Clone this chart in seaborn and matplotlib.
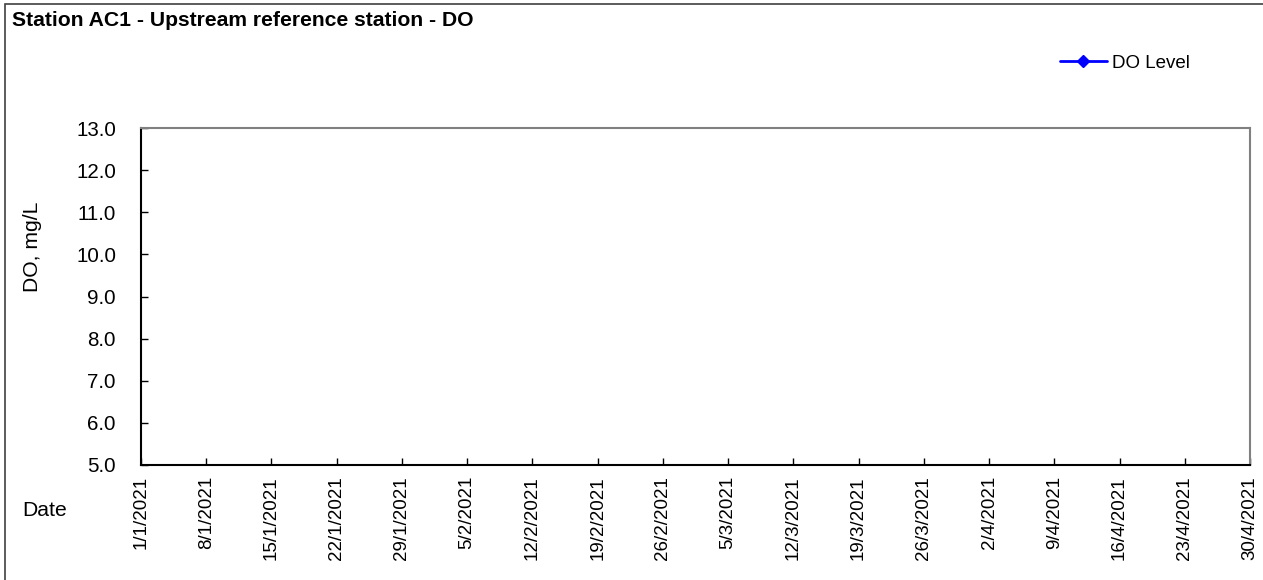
import numpy as np
import pandas as pd
import matplotlib
matplotlib.use("Agg")
import matplotlib.pyplot as plt
import seaborn as sns

# sampling dates (no readings were plotted for this period)
dates = pd.date_range("2021-01-01", "2021-04-30", freq="7D")
do_level = [np.nan] * len(dates)

y_min, y_max = 5.0, 13.0
x_start, x_end = pd.Timestamp("2021-01-01"), pd.Timestamp("2021-04-30")

sns.set_style("white")
plt.rcParams['font.family'] = ['Liberation Sans', 'DejaVu Sans']
plt.rcParams['text.color'] = 'black'

df = pd.DataFrame({"Date": dates, "DO": do_level})

fig = plt.figure(figsize=(12.63, 5.8), dpi=100)
ax = fig.add_axes([141 / 1263, 1 - 465 / 580, (1250 - 141) / 1263, (465 - 128) / 580])

ax.plot(df["Date"], df["DO"], color="blue", marker="D", markersize=6,
        linewidth=2, label="DO Level")

ax.set_xlim(x_start, x_end)
ax.set_ylim(y_min, y_max)
ax.set_yticks(np.arange(5, 14, 1))
ax.yaxis.set_major_formatter(matplotlib.ticker.FormatStrFormatter("%.1f"))
ax.set_xticks(dates)
ax.set_xticklabels([f"{d.day}/{d.month}/{d.year}" for d in dates], rotation=90)
ax.tick_params(axis="both", direction="in", length=5, width=1, colors="black",
               bottom=True, left=True)
ax.tick_params(axis="x", pad=8, labelsize=13.5)
ax.tick_params(axis="y", pad=18, labelsize=14.8)

for side in ["left", "bottom"]:
    ax.spines[side].set_color("black")
    ax.spines[side].set_linewidth(1.5)
for side in ["top", "right"]:
    ax.spines[side].set_color("#808080")
    ax.spines[side].set_linewidth(1.5)

fig.text(32 / 1263, 1 - 247 / 580, "DO, mg/L", rotation=90, fontsize=15.2,
         ha="center", va="center", color="black")
fig.text(22 / 1263, 1 - 510 / 580, "Date", fontsize=15.2, ha="left", va="center",
         color="black")
fig.text(12 / 1263, 1 - 21 / 580, "Station AC1 - Upstream reference station - DO",
         fontsize=15.2, fontweight="bold", ha="left", va="center", color="black")

leg = fig.legend(loc="center left", bbox_to_anchor=(1060 / 1263, 1 - 63 / 580),
                 frameon=False, fontsize=13.5, handlelength=2.5, handletextpad=0.27,
                 borderpad=0, borderaxespad=0)
for t in leg.get_texts():
    t.set_color("black")

fig.patches.append(plt.Rectangle((5 / 1263, -0.01), 1.02, 1 - 4 / 580 + 0.01,
                                 transform=fig.transFigure, fill=False,
                                 edgecolor="#404040", linewidth=1.2))

fig.savefig("out.png", dpi=100)
